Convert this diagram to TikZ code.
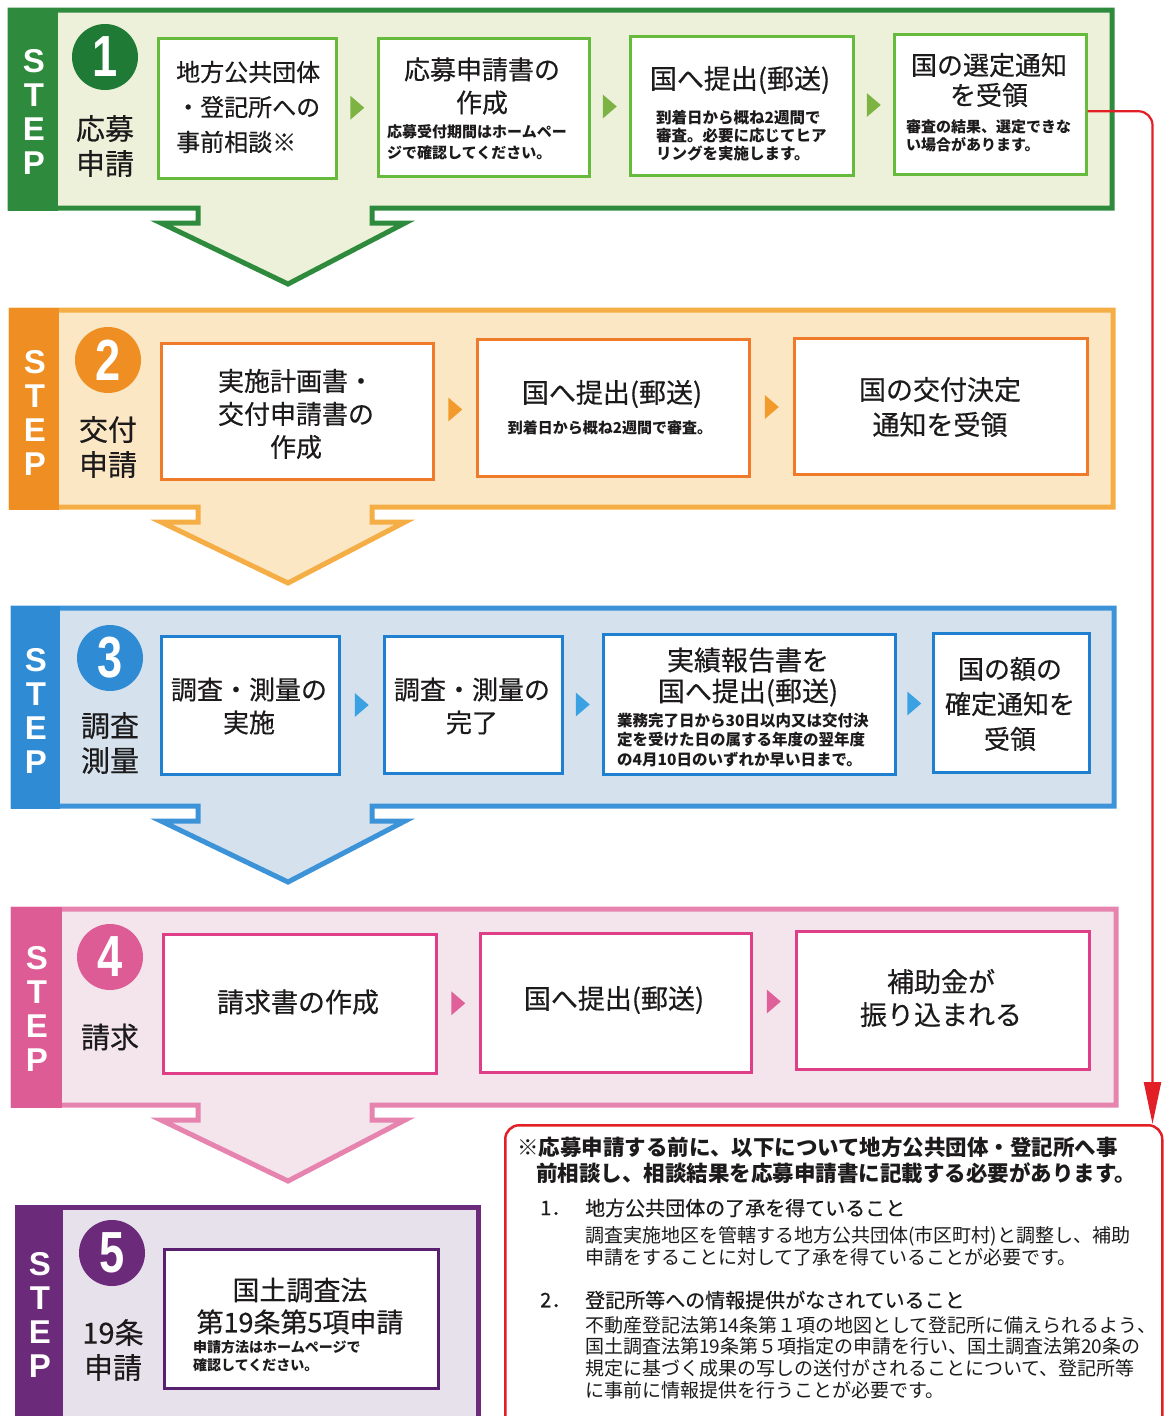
\documentclass[tikz,border=0pt]{standalone}
\usepackage{fontspec}
\setmainfont{Noto Sans CJK JP}
\newfontfamily\jpm{Noto Sans CJK JP}[FakeBold=0.4]
\newfontfamily\latinb{Liberation Sans}
\usetikzlibrary{calc,arrows.meta}
\newcommand\fsz[2]{\fontsize{#1}{#2}\selectfont}
\newcommand\mfs[2]{\jpm\fontsize{#1}{#2}\selectfont}
\definecolor{ink}{HTML}{1C1A1A}
\definecolor{gfr}{HTML}{2E8B3E}
\definecolor{gbg}{HTML}{EEF1D9}
\definecolor{gbx}{HTML}{66BB3C}
\definecolor{gtr}{HTML}{7CB342}
\definecolor{gci}{HTML}{1F7A36}
\definecolor{oba}{HTML}{EF8E22}
\definecolor{ofr}{HTML}{F4AE45}
\definecolor{obg}{HTML}{FBE7C3}
\definecolor{obx}{HTML}{EF7A2A}
\definecolor{otr}{HTML}{F39A2C}
\definecolor{bba}{HTML}{2E8BD4}
\definecolor{bfr}{HTML}{3D93D8}
\definecolor{bbg}{HTML}{D5E2EE}
\definecolor{bbx}{HTML}{1F7FD0}
\definecolor{btr}{HTML}{3AA2E2}
\definecolor{pba}{HTML}{DD5C96}
\definecolor{pfr}{HTML}{E683AF}
\definecolor{pbg}{HTML}{F4E5EC}
\definecolor{pbx}{HTML}{DF3F88}
\definecolor{ptr}{HTML}{E0609A}
\definecolor{vba}{HTML}{6B2A7A}
\definecolor{vbg}{HTML}{E7E1EB}
\definecolor{vbx}{HTML}{5A2070}
\definecolor{redc}{HTML}{E21F26}
\tikzset{
  boxA/.style={draw=#1, line width=2.5pt, fill=white, inner sep=0pt, anchor=north west},
  txt/.style={inner sep=0pt, align=center, text=ink},
  small/.style={inner sep=0pt, align=left, anchor=west, text=ink},
  stepl/.style={text=white, font=\latinb\bfseries\fsz{33}{33}, inner sep=0pt},
  numc/.style={circle, fill=#1, inner sep=0pt, minimum size=66pt, text=white, font=\latinb\bfseries\fsz{58}{58}},
  lab/.style={inner sep=0pt, align=center, text=ink, font=\mfs{29}{35}},
  notel/.style={inner sep=0pt, align=left, anchor=west, text=ink},
}
\newcommand\mkbox[6]{\node[boxA=#6, minimum width={#4-#2}, minimum height={#5-#3}] (#1) at (#2,#3) {};}
\newcommand\mktri[4]{\coordinate (#1) at ($(#2.east)!0.5!(#3.west)$);
  \fill[#4] ($(#1)+(-7,-12)$) -- ($(#1)+(7,0)$) -- ($(#1)+(-7,12)$) -- cycle;}
\newcommand\stpanel[8]{%
  \draw[line width=5pt, draw=#6, fill=#7, line join=miter]
    (198,#2) -- (#3,#2) -- (#3,#1) -- (#4,#1) -- (#4,#2) -- (372,#2) -- (372,{#2+15})
    -- (405,{#2+15}) -- (288,{#2+76}) -- (161,{#2+15}) -- (198,{#2+15}) -- cycle;
  \fill[#8] ({#3-2.5},{#1-2.5}) rectangle (#5,{#2+2.5});}
\newcommand\stepword[3]{%
  \node[stepl] (#3s) at (#1,#2) {S};
  \node[stepl] (#3t) at (#1,{#2+34}) {T};
  \node[stepl] (#3e) at (#1,{#2+68}) {E};
  \node[stepl] (#3p) at (#1,{#2+102}) {P};}
\begin{document}
\begin{tikzpicture}[x=1pt,y=-1pt]
\fill[white] (0,0) rectangle (1165,1416);
\useasboundingbox (0,0) rectangle (1165,1416);

% ---------- panels ----------
\stpanel{10}{208}{10}{1112}{58}{gfr}{gbg}{gfr}
\stpanel{310}{507}{11}{1113}{59}{ofr}{obg}{oba}
\stpanel{608}{806}{13}{1114}{60}{bfr}{bbg}{bba}
\stpanel{909}{1105}{13}{1116}{62}{pfr}{pbg}{pba}
\draw[line width=5pt, draw=vba, fill=vbg] (17,1207) rectangle (478,1440);
\fill[vba] (14.5,1204.5) rectangle (63,1442);

% ---------- STEP letters ----------
\stepword{34}{61}{sa}
\stepword{35}{362}{sb}
\stepword{36}{660}{sc}
\stepword{37}{958}{sd}
\stepword{40}{1264}{se}

% ---------- circles and labels ----------
\node[numc=gci] (c1) at (105,57) {\scalebox{0.78}[1]{1}};
\node[numc=oba] (c2) at (108,360) {\scalebox{0.78}[1]{2}};
\node[numc=bba] (c3) at (110,658) {\scalebox{0.78}[1]{3}};
\node[numc=pba] (c4) at (110,957) {\scalebox{0.78}[1]{4}};
\node[numc=vba] (c5) at (112,1253) {\scalebox{0.78}[1]{5}};
\node[lab] (l1) at (105,146) {応募\\申請};
\node[lab] (l2) at (108,447) {交付\\申請};
\node[lab] (l3) at (110,743) {調査\\測量};
\node[lab] (l4) at (110,1037) {請求};
\node[lab] (l5) at (113,1350) {19条\\申請};

% ---------- boxes ----------
\mkbox{a1}{157}{37}{335}{177}{gbx}
\mkbox{a2}{377}{37}{588}{175}{gbx}
\mkbox{a3}{629}{35}{852}{174}{gbx}
\mkbox{a4}{893}{33}{1085}{173}{gbx}
\mkbox{b1}{160}{342}{432}{478}{obx}
\mkbox{b2}{476}{338}{748}{475}{obx}
\mkbox{b3}{793}{337}{1086}{473}{obx}
\mkbox{c1b}{160}{635}{338}{773}{bbx}
\mkbox{c2b}{383}{635}{561}{772}{bbx}
\mkbox{c3b}{602}{633}{894}{773}{bbx}
\mkbox{c4b}{932}{632}{1088}{771}{bbx}
\mkbox{d1}{162}{933}{435}{1072}{pbx}
\mkbox{d2}{479}{932}{750}{1071}{pbx}
\mkbox{d3}{795}{930}{1088}{1068}{pbx}
\mkbox{e1}{163}{1248}{437}{1387}{vbx}

% ---------- small arrows between boxes ----------
\mktri{ta1}{a1}{a2}{gtr}
\mktri{ta2}{a2}{a3}{gtr}
\mktri{ta3}{a3}{a4}{gtr}
\mktri{tb1}{b1}{b2}{otr}
\mktri{tb2}{b2}{b3}{otr}
\mktri{tc1}{c1b}{c2b}{btr}
\mktri{tc2}{c2b}{c3b}{btr}
\mktri{tc3}{c3b}{c4b}{btr}
\mktri{td1}{d1}{d2}{ptr}
\mktri{td2}{d2}{d3}{ptr}

% ---------- step 1 texts ----------
\node[small, font=\mfs{24}{35}] (a1t) at (176,107) {地方公共団体\\・登記所への\\事前相談※};
\node[txt, font=\mfs{26}{33}] (a2t) at (482,86) {応募申請書の\\作成};
\node[small, font=\bfseries\fsz{15}{21}] (a2s) at (387,142.5) {応募受付期間はホームペー\\ジで確認してください。};
\node[txt, font=\mfs{27}{27}] (a3t) at (740,80) {国へ提出(郵送)};
\node[small, font=\bfseries\fsz{15.5}{18}] (a3s) at (656,136) {到着日から概ね2週間で\\審査。必要に応じてヒア\\リングを実施します。};
\node[txt, font=\mfs{26}{30}] (a4t) at (989,80) {国の選定通知\\を受領};
\node[small, font=\bfseries\fsz{15}{18}] (a4s) at (906,136) {審査の結果、選定できな\\い場合があります。};

% ---------- step 2 texts ----------
\node[txt, font=\mfs{26}{33}] (b1t) at (296,414) {実施計画書・\\交付申請書の\\作成};
\node[txt, font=\mfs{27}{27}] (b2t) at (612,394) {国へ提出(郵送)};
\node[txt, font=\bfseries\fsz{15}{15}] (b2s) at (610,428) {到着日から概ね2週間で審査。};
\node[txt, font=\mfs{27}{35}] (b3t) at (940,407) {国の交付決定\\通知を受領};

% ---------- step 3 texts ----------
\node[txt, font=\mfs{26}{33}] (c1t) at (249,706) {調査・測量の\\実施};
\node[txt, font=\mfs{26}{33}] (c2t) at (472,706) {調査・測量の\\完了};
\node[txt, font=\mfs{27}{31}] (c3t) at (748,677) {実績報告書を\\国へ提出(郵送)};
\node[small, font=\bfseries\fsz{15.5}{19.5}] (c3s) at (617,740) {業務完了日から30日以内又は交付決\\定を受けた日の属する年度の翌年度\\の4月10日のいずれか早い日まで。};
\node[txt, font=\mfs{26}{35}] (c4t) at (1010,704) {国の額の\\確定通知を\\受領};

% ---------- step 4 texts ----------
\node[txt, font=\mfs{27}{27}] (d1t) at (298,1002) {請求書の作成};
\node[txt, font=\mfs{27}{27}] (d2t) at (614,1000) {国へ提出(郵送)};
\node[txt, font=\mfs{27}{33}] (d3t) at (941,998) {補助金が\\振り込まれる};

% ---------- step 5 texts ----------
\node[txt, font=\mfs{27}{32}] (e1t) at (300,1306) {国土調査法\\第19条第5項申請};
\node[small, font=\bfseries\fsz{14}{18}] (e1s) at (193,1356) {申請方法はホームページで\\確認してください。};

% ---------- note box ----------
\node[draw=redc, line width=2.5pt, rounded corners=14pt, fill=white, inner sep=0pt,
      minimum width=657pt, minimum height=320pt, anchor=north west] (note) at (504,1124) {};
\node[notel, font=\bfseries\fsz{21.5}{21.5}] (n1) at (517,1147) {※応募申請する前に、以下について地方公共団体・登記所へ事};
\node[notel, font=\bfseries\fsz{21.5}{21.5}] (n2) at (536,1173) {前相談し、相談結果を応募申請書に記載する必要があります。};
\node[notel, font=\mfs{20}{20}] (n3n) at (540,1208) {1．};
\node[notel, font=\mfs{20}{20}] (n3) at (585,1208) {地方公共団体の了承を得ていること};
\node[notel, font=\fsz{19}{22}] (n4) at (585,1246) {調査実施地区を管轄する地方公共団体(市区町村)と調整し、補助\\申請をすることに対して了承を得ていることが必要です。};
\node[notel, font=\mfs{20}{20}] (n5n) at (540,1300) {2．};
\node[notel, font=\mfs{20}{20}] (n5) at (585,1300) {登記所等への情報提供がなされていること};
\node[notel, font=\fsz{19}{21.7}] (n6) at (585,1357.5) {不動産登記法第14条第１項の地図として登記所に備えられるよう、\\国土調査法第19条第５項指定の申請を行い、国土調査法第20条の\\規定に基づく成果の写しの送付がされることについて、登記所等\\に事前に情報提供を行うことが必要です。};

% ---------- red connector ----------
\coordinate (rc) at ($(note.north east)+(-11,0)$);
\draw[redc, line width=2.2pt, rounded corners=14pt, -{Triangle[length=42pt,width=17pt]}]
  ($(a4.east)+(0,7)$) -| (rc);
\end{tikzpicture}
\end{document}
